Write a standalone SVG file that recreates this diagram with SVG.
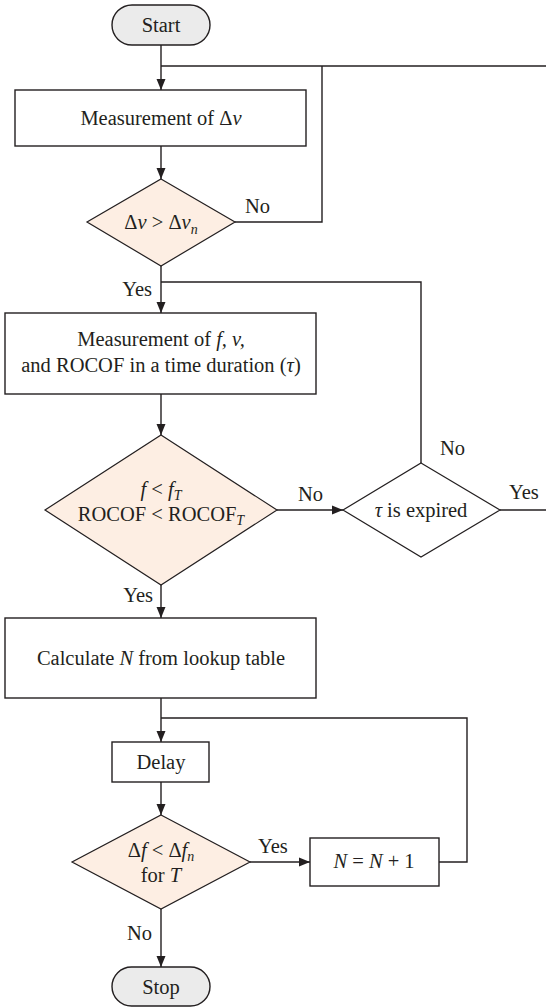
<svg xmlns="http://www.w3.org/2000/svg" width="546" height="1008" viewBox="0 0 546 1008" font-family="Liberation Serif, Times New Roman, serif">
  <style>
    .ln { fill: none; stroke: #231f20; stroke-width: 1.4; }
    .box { fill: #ffffff; stroke: #231f20; stroke-width: 1.4; }
    .term { fill: #ebebeb; stroke: #231f20; stroke-width: 1.4; }
    .dec { fill: #fdeee3; stroke: #231f20; stroke-width: 1.2; }
    .dec2 { fill: #ffffff; stroke: #231f20; stroke-width: 1.2; }
    text { font-size: 20.5px; fill: #231f20; }
    .c { text-anchor: middle; }
    .e { text-anchor: end; }
    .i { font-style: italic; }
    .sub { font-size: 14px; font-style: italic; }
  </style>
  <defs>
    <marker id="arr" markerUnits="userSpaceOnUse" markerWidth="12" markerHeight="10" refX="11" refY="5" orient="auto">
      <path d="M0,0.5 L11,5 L0,9.5 z" fill="#231f20"/>
    </marker>
  </defs>

  <!-- connectors and their Yes/No labels -->
  <g id="connectors">
    <path class="ln" d="M161,45 V90" marker-end="url(#arr)"/>
    <path class="ln" d="M161,66 H546"/>
    <path class="ln" d="M235,222 H322 V66"/>
    <path class="ln" d="M161,146 V179" marker-end="url(#arr)"/>
    <path class="ln" d="M161,266 V313" marker-end="url(#arr)"/>
    <path class="ln" d="M161,282 H421 V463"/>
    <path class="ln" d="M161,394 V435" marker-end="url(#arr)"/>
    <path class="ln" d="M277,510 H343" marker-end="url(#arr)"/>
    <path class="ln" d="M500,510 H546"/>
    <path class="ln" d="M161,585 V618" marker-end="url(#arr)"/>
    <path class="ln" d="M161,698 V742" marker-end="url(#arr)"/>
    <path class="ln" d="M161,718 H467 V862 H439"/>
    <path class="ln" d="M161,782 V815" marker-end="url(#arr)"/>
    <path class="ln" d="M250,862 H310" marker-end="url(#arr)"/>
    <path class="ln" d="M161,909 V967" marker-end="url(#arr)"/>
    <text x="245" y="213">No</text>
    <text class="e" x="152" y="296">Yes</text>
    <text x="298" y="501">No</text>
    <text x="440" y="455">No</text>
    <text x="509" y="499">Yes</text>
    <text class="e" x="153" y="602">Yes</text>
    <text x="258" y="853">Yes</text>
    <text class="e" x="152" y="940">No</text>
  </g>

  <g id="start">
    <rect class="term" x="112" y="5" width="98" height="40" rx="20" ry="20"/>
    <text class="c" x="161" y="32">Start</text>
  </g>

  <g id="measure-dv">
    <rect class="box" x="15" y="90" width="291" height="56"/>
    <text class="c" x="161" y="125">Measurement of Δ<tspan class="i">v</tspan></text>
  </g>

  <g id="check-dv">
    <polygon class="dec" points="161,179 235,222 161,266 87,222"/>
    <text class="c" x="161" y="229">Δ<tspan class="i">v</tspan> &gt; Δ<tspan class="i">v</tspan><tspan class="sub" dy="5">n</tspan></text>
  </g>

  <g id="measure-f-v-rocof">
    <rect class="box" x="5" y="313" width="311" height="81"/>
    <text class="c" x="161" y="346">Measurement of <tspan class="i">f, v,</tspan></text>
    <text class="c" x="161" y="372">and ROCOF in a time duration (<tspan class="i">τ</tspan>)</text>
  </g>

  <g id="check-thresholds">
    <polygon class="dec" points="161,435 277,510 161,585 45,510"/>
    <text class="c" x="161" y="496"><tspan class="i">f</tspan> &lt; <tspan class="i">f</tspan><tspan class="sub" dy="4">T</tspan></text>
    <text class="c" x="161" y="521">ROCOF &lt; ROCOF<tspan class="sub" dy="4">T</tspan></text>
  </g>

  <g id="tau-expired">
    <polygon class="dec2" points="421,463 500,510 421,557 343,510"/>
    <text class="c" x="421" y="517"><tspan class="i">τ</tspan> is expired</text>
  </g>

  <g id="calc-n">
    <rect class="box" x="5" y="618" width="311" height="80"/>
    <text class="c" x="161" y="665">Calculate <tspan class="i">N</tspan> from lookup table</text>
  </g>

  <g id="delay">
    <rect class="box" x="112" y="742" width="97" height="40"/>
    <text class="c" x="161" y="769">Delay</text>
  </g>

  <g id="check-df">
    <polygon class="dec" points="161,815 250,862 161,909 72,862"/>
    <text class="c" x="161" y="857">Δ<tspan class="i">f</tspan> &lt; Δ<tspan class="i">f</tspan><tspan class="sub" dy="4">n</tspan></text>
    <text class="c" x="161" y="882">for <tspan class="i">T</tspan></text>
  </g>

  <g id="increment-n">
    <rect class="box" x="310" y="838" width="129" height="48"/>
    <text class="c" x="374" y="868"><tspan class="i">N</tspan> = <tspan class="i">N</tspan> + 1</text>
  </g>

  <g id="stop">
    <rect class="term" x="112" y="967" width="98" height="39" rx="19.5" ry="19.5"/>
    <text class="c" x="161" y="994">Stop</text>
  </g>
</svg>
